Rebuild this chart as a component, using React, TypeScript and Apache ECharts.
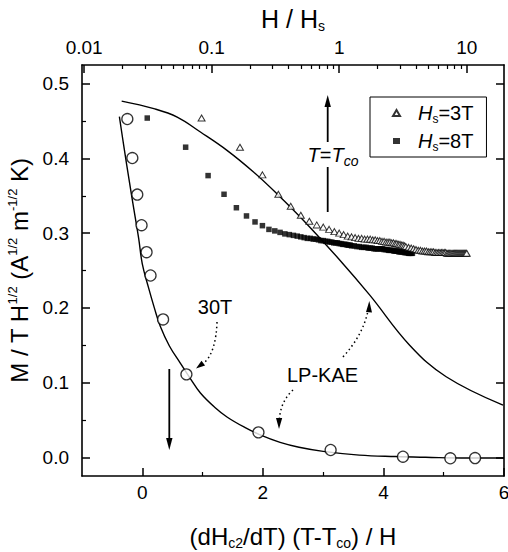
import React, { useEffect, useRef } from "react";
import * as echarts from "echarts";

const FONT = "'Liberation Sans', Arial, Helvetica, sans-serif";

// ---- axes ----
const X_MIN = -1;
const X_MAX = 6;
const X_MAJOR = [0, 2, 4, 6];
const X_MINOR = [1, 3, 5];
const Y_MIN = -0.025;
const Y_MAX = 0.525;
const Y_MAJOR = [0, 0.1, 0.2, 0.3, 0.4, 0.5];
const Y_MINOR = [0.05, 0.15, 0.25, 0.35, 0.45];
const TOP_MIN = 0.00962; // H/Hs at left frame edge
const TOP_MAX = 19.6; // H/Hs at right frame edge
const TOP_MAJOR = [0.01, 0.1, 1, 10];
const TOP_MINOR = [
  0.02, 0.03, 0.04, 0.05, 0.06, 0.07, 0.08, 0.09,
  0.2, 0.3, 0.4, 0.5, 0.6, 0.7, 0.8, 0.9,
  2, 3, 4, 5, 6, 7, 8, 9,
];

// ---- 30T data (open circles), bottom axis ----
const X_30T = [-0.248, -0.165, -0.083, -0.012, 0.071, 0.137, 0.345, 0.732, 1.927, 3.124, 4.324, 5.11, 5.52];
const M_30T = [0.4527, 0.4005, 0.3516, 0.3106, 0.2745, 0.2433, 0.1845, 0.111, 0.0334, 0.0098, 0.0008, -0.0013, -0.001];

// ---- fit through 30T data ----
const FIT30_X = [-0.38, -0.3, -0.22, -0.14, -0.06, 0.0, 0.1, 0.2, 0.3, 0.45, 0.633, 0.8, 0.964, 1.2, 1.405, 1.7, 1.955, 2.286, 2.6, 3.0, 3.6, 4.2, 4.7, 5.4, 6.0];
const FIT30_Y = [0.456, 0.413, 0.372, 0.332, 0.293, 0.259, 0.228, 0.2, 0.175, 0.149, 0.1257, 0.105, 0.086, 0.067, 0.054, 0.04, 0.03, 0.02, 0.0135, 0.008, 0.003, 0.001, 0.0, -0.001, -0.001];

// ---- LP-KAE curve ----
const LP_X = [-0.342, 0.192, 0.579, 0.964, 1.405, 1.845, 2.258, 2.671, 3.278, 3.774, 4.435, 5.041, 5.983];
const LP_Y = [0.4767, 0.4666, 0.4553, 0.4353, 0.4108, 0.3818, 0.3507, 0.3172, 0.2638, 0.217, 0.1501, 0.1078, 0.0699];

// ---- field sweeps (H in tesla), top axis H/Hs ----
const FIELD_T = [
  0.25, 0.5, 0.75, 1, 1.25, 1.5, 1.75, 2, 2.25, 2.5, 2.75, 3, 3.25, 3.5, 3.75, 4, 4.25, 4.5, 4.75, 5,
  5.25, 5.5, 5.75, 6, 6.25, 6.5, 6.75, 7, 7.25, 7.5, 7.75, 8, 8.25, 8.5, 8.75, 9, 9.25, 9.5, 9.75, 10,
  10.5, 11, 11.5, 12, 12.5, 13, 13.5, 14, 14.5, 15, 15.5, 16, 16.5, 17, 17.5, 18, 18.5, 19, 19.5, 20,
  20.5, 21, 21.5, 22, 22.5, 23, 23.5, 24, 24.5, 25, 25.5, 26, 26.5, 27, 27.5, 28, 28.5, 29, 29.5, 30,
];
const HS_3T = 3;
const HS_8T = 8;
const M_HS3 = [
  0.454, 0.415, 0.378, 0.352, 0.336, 0.324, 0.316, 0.311, 0.308, 0.305,
  0.302, 0.3, 0.298, 0.296, 0.295, 0.294, 0.293, 0.293, 0.292, 0.292,
  0.292, 0.291, 0.291, 0.29, 0.29, 0.289, 0.289, 0.288, 0.288, 0.288,
  0.287, 0.287, 0.286, 0.286, 0.285, 0.285, 0.284, 0.284, 0.283, 0.282,
  0.281, 0.28, 0.279, 0.278, 0.277, 0.277, 0.276, 0.276, 0.276, 0.275,
  0.275, 0.275, 0.275, 0.274, 0.274, 0.274, 0.274, 0.274, 0.274, 0.274,
  0.274, 0.273, 0.273, 0.273, 0.273, 0.273, 0.273, 0.273, 0.273, 0.273,
  0.273, 0.273, 0.273, 0.273, 0.273, 0.273, 0.273, 0.273, 0.273, 0.273,
];
const M_HS8 = [
  0.454, 0.415, 0.377, 0.352, 0.334, 0.323, 0.315, 0.31, 0.305, 0.303,
  0.301, 0.299, 0.298, 0.297, 0.296, 0.295, 0.294, 0.293, 0.293, 0.292,
  0.292, 0.291, 0.29, 0.29, 0.289, 0.289, 0.288, 0.288, 0.287, 0.287,
  0.287, 0.286, 0.286, 0.285, 0.285, 0.285, 0.284, 0.284, 0.284, 0.283,
  0.283, 0.282, 0.282, 0.281, 0.281, 0.281, 0.28, 0.28, 0.28, 0.279,
  0.279, 0.279, 0.279, 0.279, 0.279, 0.278, 0.278, 0.278, 0.277, 0.277,
  0.277, 0.277, 0.276, 0.276, 0.276, 0.276, 0.275, 0.275, 0.275, 0.275,
  0.275, 0.274, 0.274, 0.274, 0.274, 0.273, 0.273, 0.273, 0.273, 0.273,
];

const BLACK = "#000";
const lg = (v: number) => Math.log10(v);

function buildOption(): any {
  const zip = (xs: number[], ys: number[]) => xs.map((x, i) => [x, ys[i]]);
  const sweep = (hs: number, ys: number[]) => FIELD_T.map((h, i) => [lg(h / hs), ys[i]]);

  const axisLine = { show: true, onZero: false, lineStyle: { color: BLACK, width: 1.6 } };
  const noLine = { show: false, onZero: false };
  const majorTick = (vals: number[]) => ({
    show: true, inside: true, length: 8, customValues: vals, lineStyle: { color: BLACK, width: 1.5 },
  });
  const minorTick = (vals: number[]) => ({
    show: true, inside: true, length: 4, customValues: vals, lineStyle: { color: BLACK, width: 1.2 },
  });
  const labelStyle = { color: BLACK, fontSize: 19, fontFamily: FONT };
  const subRich = {
    sb: { fontSize: 14, fontFamily: FONT, color: BLACK, padding: [14, 0, 0, 0] },
    sp: { fontSize: 13, fontFamily: FONT, color: BLACK, padding: [0, 0, 14, 0] },
  };

  return {
    animation: false,
    backgroundColor: "#fff",
    textStyle: { fontFamily: FONT },
    grid: { left: 82, top: 65, right: 4, bottom: 76, containLabel: false, outerBoundsMode: "none" },
    xAxis: [
      {
        type: "value", min: X_MIN, max: X_MAX, position: "bottom",
        axisLine, axisTick: majorTick(X_MAJOR),
        axisLabel: { ...labelStyle, customValues: X_MAJOR, margin: 7, formatter: (v: number) => String(v) },
        splitLine: { show: false },
        name: "(dH{sb|c2}/dT) (T-T{sb|co}) / H",
        nameLocation: "middle", nameGap: 46,
        nameTextStyle: { color: BLACK, fontSize: 24, fontFamily: FONT, rich: subRich },
      },
      {
        type: "value", min: X_MIN, max: X_MAX, position: "bottom",
        axisLine: noLine, axisTick: minorTick(X_MINOR),
        axisLabel: { show: false }, splitLine: { show: false },
      },
      {
        type: "value", min: lg(TOP_MIN), max: lg(TOP_MAX), position: "top",
        axisLine, axisTick: majorTick(TOP_MAJOR.map(lg)),
        axisLabel: {
          ...labelStyle, customValues: TOP_MAJOR.map(lg), margin: 8,
          formatter: (v: number) => String(+Math.pow(10, v).toPrecision(2)),
        },
        splitLine: { show: false },
        name: "H / H{sb|s}", nameLocation: "middle", nameGap: 27,
        nameTextStyle: { color: BLACK, fontSize: 25, fontFamily: FONT, rich: subRich },
      },
      {
        type: "value", min: lg(TOP_MIN), max: lg(TOP_MAX), position: "top",
        axisLine: noLine, axisTick: minorTick(TOP_MINOR.map(lg)),
        axisLabel: { show: false }, splitLine: { show: false },
      },
    ],
    yAxis: [
      {
        type: "value", min: Y_MIN, max: Y_MAX, position: "left",
        axisLine, axisTick: majorTick(Y_MAJOR),
        axisLabel: { ...labelStyle, customValues: Y_MAJOR, margin: 13, formatter: (v: number) => v.toFixed(1) },
        splitLine: { show: false },
        name: "M / T H{sp|1/2} (A{sp|1/2} m{sp|-1/2} K)",
        nameLocation: "middle", nameGap: 38, nameRotate: 90,
        nameTextStyle: { color: BLACK, fontSize: 24, fontFamily: FONT, rich: subRich },
      },
      {
        type: "value", min: Y_MIN, max: Y_MAX, position: "left",
        axisLine: noLine, axisTick: minorTick(Y_MINOR),
        axisLabel: { show: false }, splitLine: { show: false },
      },
      {
        type: "value", min: Y_MIN, max: Y_MAX, position: "right",
        axisLine, axisTick: majorTick(Y_MAJOR),
        axisLabel: { show: false }, splitLine: { show: false },
      },
    ],
    legend: {
      left: 370, top: 97, orient: "vertical",
      borderColor: BLACK, borderWidth: 1, padding: [6, 13, 4, 22], itemGap: 6,
      itemWidth: 7, itemHeight: 6,
      data: [
        { name: "Hs=3T", icon: "triangle" },
        { name: "Hs=8T", icon: "rect" },
      ],
      formatter: (name: string) => name.replace(/^Hs/, "{gap|}{i|H}{sb|s}"),
      textStyle: {
        color: BLACK, fontSize: 20, fontFamily: FONT,
        rich: {
          gap: { width: 13 },
          i: { fontStyle: "italic", fontSize: 20, fontFamily: FONT, color: BLACK },
          sb: { fontSize: 12, fontFamily: FONT, color: BLACK, padding: [12, 0, 0, 0] },
        },
      },
    },
    series: [
      {
        name: "LP-KAE", type: "line", xAxisIndex: 0, yAxisIndex: 0,
        data: zip(LP_X, LP_Y), smooth: 0.4, showSymbol: false, symbol: "none",
        lineStyle: { color: BLACK, width: 1.4 }, z: 2,
      },
      {
        name: "30T fit", type: "line", xAxisIndex: 0, yAxisIndex: 0,
        data: zip(FIT30_X, FIT30_Y), smooth: 0.4, showSymbol: false, symbol: "none",
        lineStyle: { color: BLACK, width: 1.4 }, z: 2,
      },
      {
        name: "30T", type: "scatter", xAxisIndex: 0, yAxisIndex: 0,
        data: zip(X_30T, M_30T), symbol: "circle", symbolSize: 11,
        itemStyle: { color: "#fff", borderColor: BLACK, borderWidth: 1.3 }, z: 4,
      },
      {
        name: "Hs=8T", type: "scatter", xAxisIndex: 2, yAxisIndex: 0,
        data: sweep(HS_8T, M_HS8), symbol: "rect", symbolSize: 5.5,
        itemStyle: { color: BLACK, borderColor: BLACK, borderWidth: 0 }, z: 3,
      },
      {
        name: "Hs=3T", type: "scatter", xAxisIndex: 2, yAxisIndex: 0,
        data: sweep(HS_3T, M_HS3), symbol: "triangle", symbolSize: [7, 6],
        itemStyle: { color: "#fff", borderColor: BLACK, borderWidth: 1 }, z: 3,
      },
    ],
    graphic: [
      // T = Tco arrow
      { type: "line", shape: { x1: 327.7, y1: 104, x2: 327.7, y2: 142 }, style: { stroke: BLACK, lineWidth: 1.8 } },
      { type: "polygon", shape: { points: [[327.7, 95], [324.5, 107], [330.9, 107]] }, style: { fill: BLACK } },
      { type: "line", shape: { x1: 327.7, y1: 167, x2: 327.7, y2: 212 }, style: { stroke: BLACK, lineWidth: 1.8 } },
      {
        type: "text", x: 333, y: 155,
        style: {
          text: "{i|T}={i|T}{si|co}", align: "center", verticalAlign: "middle",
          fontSize: 20, fontFamily: FONT, fill: BLACK,
          rich: {
            i: { fontStyle: "italic", fontSize: 20, fontFamily: FONT, fill: BLACK },
            si: { fontStyle: "italic", fontSize: 14, fontFamily: FONT, fill: BLACK, padding: [12, 0, 0, 0] },
          },
        },
      },
      // 30T label and dotted arrow
      { type: "text", x: 215, y: 307, style: { text: "30T", align: "center", verticalAlign: "middle", fontSize: 20, fontFamily: FONT, fill: BLACK } },
      {
        type: "bezierCurve",
        shape: { x1: 217, y1: 322, cpx1: 216, cpy1: 352, x2: 204, y2: 363 },
        style: { stroke: BLACK, lineWidth: 1.5, lineDash: [1.5, 3], fill: null },
      },
      { type: "polygon", shape: { points: [[196, 368.5], [205.1, 365.6], [201.5, 360.8]] }, style: { fill: BLACK } },
      // downward arrow
      { type: "line", shape: { x1: 169.3, y1: 369, x2: 169.3, y2: 440 }, style: { stroke: BLACK, lineWidth: 1.8 } },
      { type: "polygon", shape: { points: [[169.3, 450], [166.1, 438], [172.5, 438]] }, style: { fill: BLACK } },
      // LP-KAE label and arrows
      { type: "text", x: 322.5, y: 375, style: { text: "LP-KAE", align: "center", verticalAlign: "middle", fontSize: 20, fontFamily: FONT, fill: BLACK } },
      {
        type: "bezierCurve",
        shape: { x1: 343, y1: 357, cpx1: 362, cpy1: 336, x2: 367.5, y2: 313 },
        style: { stroke: BLACK, lineWidth: 1.5, lineDash: [1.5, 3], fill: null },
      },
      { type: "polygon", shape: { points: [[369.3, 301], [366, 312], [372, 312.5]] }, style: { fill: BLACK } },
      {
        type: "bezierCurve",
        shape: { x1: 293, y1: 390, cpx1: 281, cpy1: 401, x2: 279.5, y2: 418 },
        style: { stroke: BLACK, lineWidth: 1.5, lineDash: [1.5, 3], fill: null },
      },
      { type: "polygon", shape: { points: [[279, 429], [276, 418], [282.2, 418]] }, style: { fill: BLACK } },
    ],
  };
}

export default function App() {
  const ref = useRef<HTMLDivElement>(null);
  useEffect(() => {
    if (!ref.current) return;
    const chart = echarts.init(ref.current, undefined, { renderer: "svg" });
    chart.setOption(buildOption());
    return () => chart.dispose();
  }, []);
  return (
    <div
      ref={ref}
      style={{ position: "fixed", left: 0, top: 0, width: 508, height: 552, background: "#fff" }}
    />
  );
}
